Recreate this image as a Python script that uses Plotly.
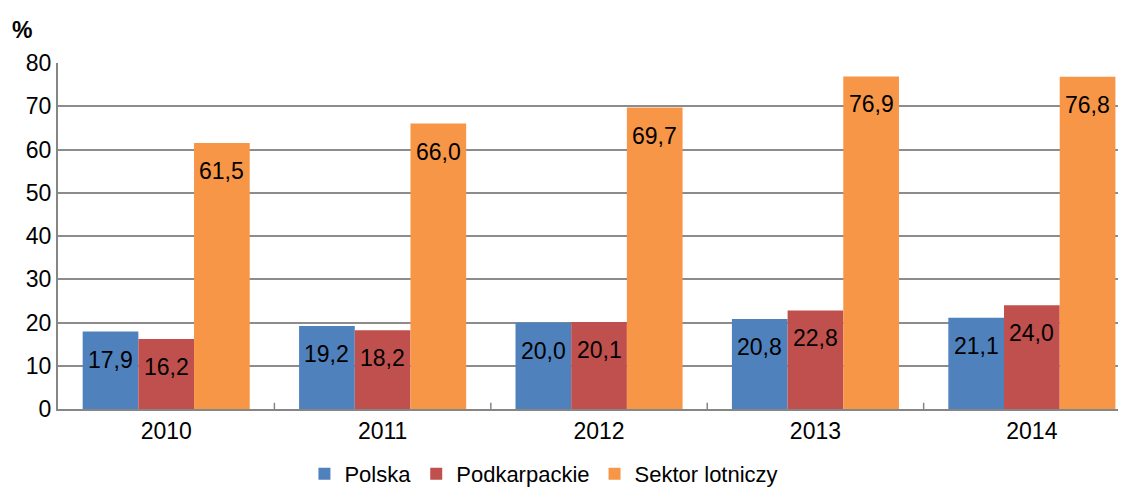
import plotly.graph_objects as go

years = ["2010", "2011", "2012", "2013", "2014"]
polska = [17.9, 19.2, 20.0, 20.8, 21.1]
podkarpackie = [16.2, 18.2, 20.1, 22.8, 24.0]
sektor = [61.5, 66.0, 69.7, 76.9, 76.8]
series_names = ["Polska", "Podkarpackie", "Sektor lotniczy"]
colors = ["#4F81BD", "#C0504D", "#F79646"]

FONT = "Liberation Sans"
FS = 23
x_idx = list(range(len(years)))

fig = go.Figure()
all_series = [polska, podkarpackie, sektor]
for name, vals, col in zip(series_names, all_series, colors):
    fig.add_trace(go.Bar(x=x_idx, y=vals, name=name, marker=dict(color=col, line=dict(width=0))))

bargap = 0.228
group_w = 1 - bargap
bar_w = group_w / 3
annotations = []
for s, vals in enumerate(all_series):
    off = -group_w / 2 + bar_w * (s + 0.5)
    for i, v in enumerate(vals):
        annotations.append(dict(
            x=i + off, y=v, xref="x", yref="y",
            text=f"{v:.1f}".replace(".", ","), showarrow=False,
            yshift=-28, yanchor="middle", xanchor="center",
            font=dict(family=FONT, size=FS, color="#000000")))
annotations.append(dict(xref="paper", yref="paper", x=-0.0337, y=1.095, xanchor="center", yanchor="middle",
                        text="<b>%</b>", showarrow=False,
                        font=dict(family=FONT, size=23, color="#000000")))

# page body has an 8px margin: compensate
fig.update_layout(
    width=1118, height=487,
    margin=dict(l=50, r=0, t=55, b=86, autoexpand=False),
    paper_bgcolor="white", plot_bgcolor="white",
    barmode="group", bargap=bargap, bargroupgap=0,
    font=dict(family=FONT, size=FS, color="#000000"),
    xaxis=dict(
        tickmode="array", tickvals=x_idx, ticktext=years,
        range=[-0.5, 4.435], showgrid=False,
        showline=True, linecolor="#868686", linewidth=2,
        ticks="", tickfont=dict(size=FS), automargin=False,
    ),
    yaxis=dict(
        range=[0, 80], dtick=10, showgrid=True, gridcolor="#8c8c8c", gridwidth=1.5,
        showline=True, linecolor="#868686", linewidth=2,
        ticks="", tickfont=dict(size=FS), zeroline=False, automargin=False,
    ),
    legend=dict(orientation="h", x=0.455, xanchor="center", yref="container", y=-0.016, yanchor="bottom",
                font=dict(size=22), itemwidth=30, traceorder="normal"),
    annotations=annotations,
    showlegend=True,
)
shapes = []
for i in range(1, len(years)):
    shapes.append(dict(type="line", xref="x", yref="paper", x0=i - 0.5, x1=i - 0.5, y0=0, y1=0.018,
                       line=dict(color="#868686", width=1.5)))
fig.update_layout(shapes=shapes)

fig.write_html("out.html")
